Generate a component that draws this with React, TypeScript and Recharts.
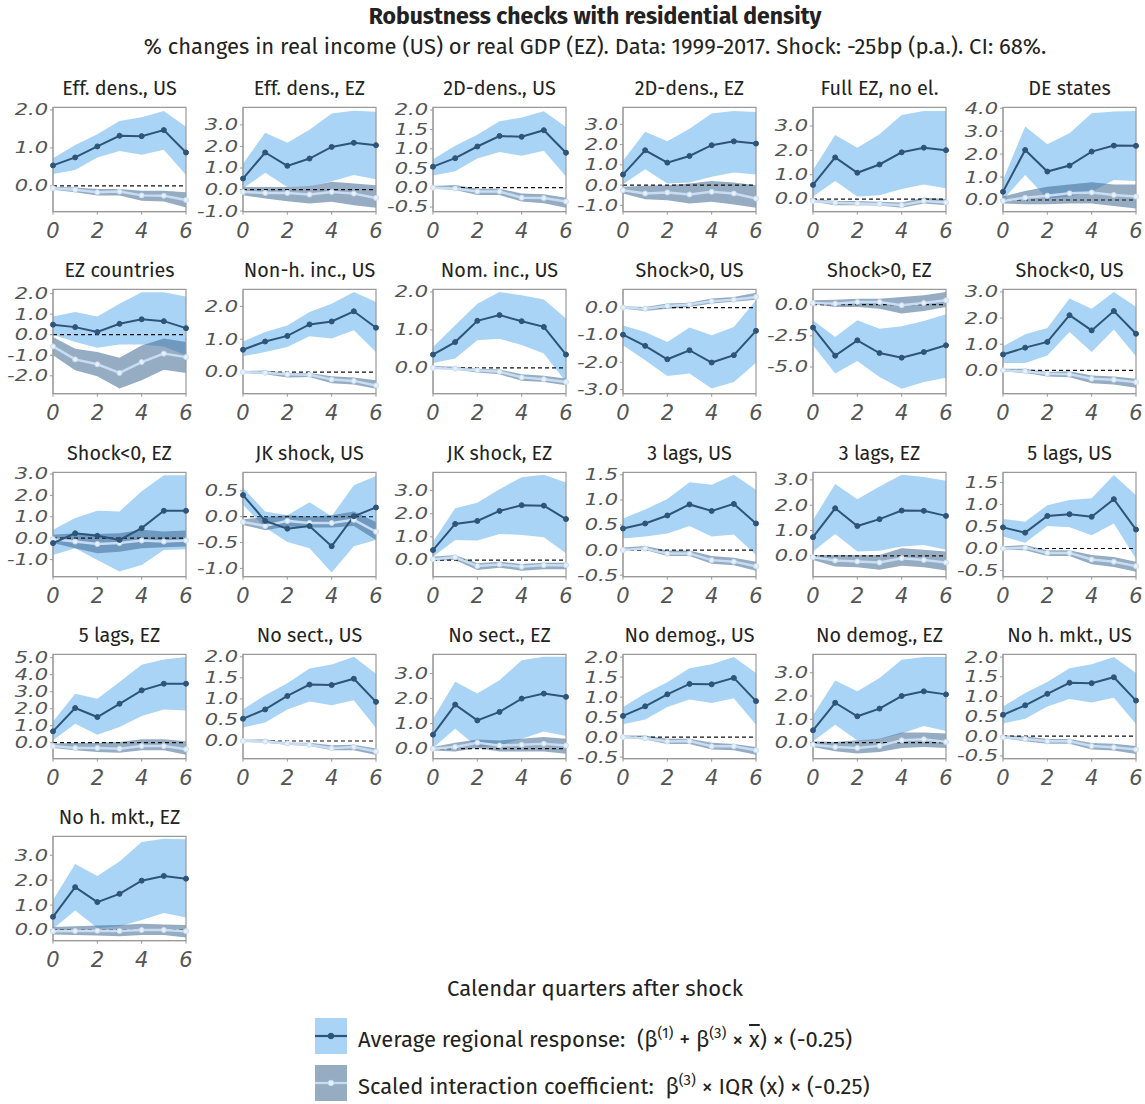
import React from "react";
import { ComposedChart, Area, Line, XAxis, YAxis, ReferenceLine, ReferenceArea } from "recharts";

// Horizont 0..6 Quartale, Beschriftung nur gerade Quartale.
const quarters = [0, 1, 2, 3, 4, 5, 6];
const xTicks = [0, 2, 4, 6];

const panelTitles = [
  "Eff. dens., US", "Eff. dens., EZ", "2D-dens., US", "2D-dens., EZ", "Full EZ, no el.", "DE states",
  "EZ countries", "Non-h. inc., US", "Nom. inc., US", "Shock>0, US", "Shock>0, EZ", "Shock<0, US",
  "Shock<0, EZ", "JK shock, US", "JK shock, EZ", "3 lags, US", "3 lags, EZ", "5 lags, US",
  "5 lags, EZ", "No sect., US", "No sect., EZ", "No demog., US", "No demog., EZ", "No h. mkt., US",
  "No h. mkt., EZ",
];

const yTicks = [
  [0, 1, 2], [-1, 0, 1, 2, 3], [-0.5, 0, 0.5, 1, 1.5, 2], [-1, 0, 1, 2, 3], [0, 1, 2, 3], [0, 1, 2, 3, 4],
  [-2, -1, 0, 1, 2], [0, 1, 2], [0, 1, 2], [-3, -2, -1, 0], [-5, -2.5, 0], [0, 1, 2, 3],
  [-1, 0, 1, 2, 3], [-1, -0.5, 0, 0.5], [0, 1, 2, 3], [-0.5, 0, 0.5, 1, 1.5], [0, 1, 2, 3], [-0.5, 0, 0.5, 1, 1.5],
  [0, 1, 2, 3, 4, 5], [0, 0.5, 1, 1.5, 2], [0, 1, 2, 3], [-0.5, 0, 0.5, 1, 1.5, 2], [0, 1, 2, 3], [-0.5, 0, 0.5, 1, 1.5, 2],
  [0, 1, 2, 3],
];

const yDomains = [
  [-0.68, 2.07], [-1.03, 3.82], [-0.62, 2.07], [-1.31, 3.84], [-0.52, 3.77], [-0.51, 4.04],
  [-2.87, 2.21], [-0.66, 2.52], [-0.68, 2.07], [-3.15, 0.67], [-7.14, 1.23], [-0.89, 3.1],
  [-1.8, 3.08], [-1.16, 0.86], [-0.72, 3.79], [-0.53, 1.55], [-0.82, 3.3], [-0.64, 1.73],
  [-0.94, 5.2], [-0.42, 2.06], [-0.4, 3.77], [-0.54, 2.07], [-0.69, 3.79], [-0.57, 2.07],
  [-0.43, 3.76],
];

// Durchschnittliche regionale Reaktion (Punktschätzer) je Panel.
const response = [
  [0.54, 0.75, 1.04, 1.32, 1.31, 1.47, 0.88],
  [0.51, 1.72, 1.10, 1.44, 1.98, 2.17, 2.06],
  [0.54, 0.76, 1.06, 1.33, 1.31, 1.48, 0.90],
  [0.52, 1.72, 1.11, 1.44, 1.97, 2.16, 2.05],
  [0.58, 1.71, 1.08, 1.42, 1.92, 2.11, 2.01],
  [0.36, 2.18, 1.24, 1.50, 2.11, 2.37, 2.36],
  [0.49, 0.37, 0.13, 0.53, 0.75, 0.66, 0.32],
  [0.68, 0.93, 1.10, 1.45, 1.54, 1.85, 1.35],
  [0.35, 0.68, 1.24, 1.39, 1.23, 1.08, 0.35],
  [-0.99, -1.40, -1.89, -1.56, -2.01, -1.74, -0.85],
  [-1.84, -4.09, -2.86, -3.88, -4.25, -3.80, -3.26],
  [0.61, 0.87, 1.09, 2.11, 1.53, 2.27, 1.40],
  [-0.23, 0.23, 0.11, -0.08, 0.47, 1.28, 1.28],
  [0.42, -0.08, -0.23, -0.18, -0.57, 0.01, 0.18],
  [0.43, 1.56, 1.69, 2.12, 2.37, 2.35, 1.77],
  [0.43, 0.53, 0.69, 0.91, 0.78, 0.92, 0.53],
  [0.74, 1.88, 1.18, 1.45, 1.79, 1.78, 1.58],
  [0.48, 0.36, 0.74, 0.78, 0.72, 1.12, 0.43],
  [0.67, 2.04, 1.51, 2.29, 3.08, 3.47, 3.47],
  [0.53, 0.75, 1.07, 1.34, 1.33, 1.48, 0.93],
  [0.56, 1.76, 1.13, 1.47, 2.00, 2.20, 2.07],
  [0.53, 0.77, 1.07, 1.33, 1.32, 1.48, 0.90],
  [0.53, 1.71, 1.13, 1.46, 2.00, 2.20, 2.07],
  [0.54, 0.78, 1.07, 1.35, 1.34, 1.49, 0.90],
  [0.53, 1.72, 1.12, 1.45, 1.98, 2.17, 2.06],
];

const responseLo = [
  [0.31, 0.42, 0.75, 0.92, 0.82, 0.95, 0.29],
  [0.05, 0.78, 0.12, 0.15, 0.38, 0.68, 0.48],
  [0.31, 0.42, 0.75, 0.92, 0.82, 0.95, 0.29],
  [0.05, 0.78, 0.08, 0.13, 0.41, 0.62, 0.52],
  [0.10, 0.74, 0.10, 0.16, 0.41, 0.60, 0.44],
  [0.00, 1.09, 0.07, 0.15, 0.36, 0.87, 0.83],
  [0.00, -0.36, -0.63, -0.47, -0.47, -0.57, -1.00],
  [0.48, 0.61, 0.76, 1.09, 1.02, 1.27, 0.61],
  [0.13, 0.25, 0.73, 0.77, 0.60, 0.38, -0.37],
  [-1.38, -1.93, -2.50, -2.41, -2.96, -2.72, -2.02],
  [-3.26, -5.53, -4.52, -5.80, -6.74, -6.20, -5.86],
  [0.28, 0.28, 0.57, 1.47, 0.70, 1.56, 0.54],
  [-0.78, -0.47, -1.02, -1.56, -1.25, -0.55, -0.52],
  [0.23, -0.21, -0.49, -0.61, -1.08, -0.57, -0.45],
  [0.14, 0.87, 0.84, 1.13, 1.08, 0.98, 0.29],
  [0.23, 0.27, 0.33, 0.48, 0.27, 0.31, -0.10],
  [0.17, 0.87, 0.17, 0.20, 0.37, 0.43, 0.24],
  [0.27, 0.13, 0.51, 0.48, 0.30, 0.57, -0.23],
  [0.14, 1.12, 0.47, 0.92, 1.57, 1.96, 1.90],
  [0.32, 0.44, 0.75, 0.94, 0.85, 0.97, 0.31],
  [0.03, 0.80, 0.07, 0.13, 0.40, 0.69, 0.51],
  [0.32, 0.44, 0.75, 0.94, 0.85, 0.97, 0.31],
  [0.06, 0.77, 0.10, 0.14, 0.39, 0.71, 0.50],
  [0.32, 0.44, 0.75, 0.94, 0.85, 0.97, 0.31],
  [0.05, 0.78, 0.08, 0.15, 0.40, 0.68, 0.50],
];

const responseHi = [
  [0.73, 1.08, 1.36, 1.71, 1.81, 1.97, 1.56],
  [1.20, 2.64, 2.17, 2.78, 3.53, 3.66, 3.61],
  [0.73, 1.08, 1.36, 1.71, 1.81, 1.97, 1.56],
  [1.20, 2.64, 2.17, 2.78, 3.53, 3.66, 3.61],
  [1.19, 2.63, 2.11, 2.66, 3.45, 3.62, 3.62],
  [0.87, 3.20, 2.43, 2.91, 3.78, 3.86, 3.88],
  [0.89, 1.11, 0.89, 1.51, 2.07, 2.07, 1.86],
  [0.93, 1.22, 1.42, 1.83, 2.08, 2.44, 2.13],
  [0.55, 1.12, 1.69, 2.00, 1.91, 1.80, 1.30],
  [-0.65, -0.89, -1.26, -0.73, -1.01, -0.71, 0.27],
  [-1.26, -2.59, -1.26, -1.93, -1.74, -1.31, -0.78],
  [0.92, 1.38, 1.62, 2.75, 2.36, 3.00, 2.43],
  [0.39, 0.94, 1.28, 1.25, 2.19, 2.94, 2.94],
  [0.56, 0.10, 0.03, 0.28, 0.01, 0.61, 0.79],
  [0.79, 2.24, 2.48, 3.06, 3.58, 3.68, 3.35],
  [0.63, 0.81, 1.02, 1.35, 1.30, 1.50, 1.20],
  [1.42, 2.84, 2.24, 2.74, 3.20, 3.11, 2.97],
  [0.67, 0.61, 0.98, 1.10, 1.14, 1.67, 1.21],
  [1.25, 2.88, 2.59, 3.57, 4.59, 4.90, 5.04],
  [0.75, 1.09, 1.37, 1.72, 1.82, 2.00, 1.60],
  [1.20, 2.67, 2.20, 2.73, 3.53, 3.67, 3.67],
  [0.75, 1.09, 1.37, 1.72, 1.82, 2.00, 1.60],
  [1.17, 2.67, 2.20, 2.77, 3.56, 3.67, 3.67],
  [0.75, 1.09, 1.37, 1.72, 1.82, 2.00, 1.60],
  [1.20, 2.65, 2.17, 2.75, 3.53, 3.66, 3.64],
];

// Skalierter Interaktionskoeffizient je Panel.
const interaction = [
  [-0.06, -0.10, -0.17, -0.15, -0.25, -0.26, -0.37],
  [-0.11, -0.16, -0.16, -0.23, -0.11, -0.19, -0.39],
  [0.00, -0.02, -0.10, -0.10, -0.26, -0.27, -0.36],
  [-0.25, -0.41, -0.36, -0.46, -0.33, -0.41, -0.66],
  [-0.08, -0.15, -0.18, -0.20, -0.25, -0.08, -0.14],
  [-0.04, 0.10, 0.19, 0.29, 0.33, 0.22, 0.15],
  [-0.57, -1.20, -1.44, -1.86, -1.33, -0.92, -1.09],
  [0.00, -0.02, -0.07, -0.08, -0.23, -0.27, -0.41],
  [0.00, -0.02, -0.06, -0.10, -0.25, -0.30, -0.37],
  [0.00, -0.04, 0.06, 0.11, 0.23, 0.29, 0.39],
  [0.13, 0.08, 0.21, 0.21, -0.05, 0.13, 0.35],
  [0.00, -0.03, -0.13, -0.15, -0.32, -0.36, -0.45],
  [-0.05, -0.16, -0.27, -0.23, -0.11, -0.16, -0.11],
  [-0.10, -0.18, -0.08, -0.12, -0.12, -0.06, -0.29],
  [0.03, 0.12, -0.26, -0.19, -0.29, -0.22, -0.22],
  [0.00, 0.03, -0.07, -0.07, -0.20, -0.23, -0.32],
  [-0.05, -0.18, -0.22, -0.26, -0.09, -0.16, -0.26],
  [0.00, 0.02, -0.10, -0.10, -0.25, -0.30, -0.40],
  [-0.20, -0.31, -0.31, -0.35, -0.20, -0.20, -0.39],
  [0.00, -0.01, -0.06, -0.09, -0.17, -0.14, -0.25],
  [0.00, 0.07, 0.24, 0.13, 0.16, 0.20, 0.13],
  [0.00, -0.03, -0.11, -0.10, -0.23, -0.23, -0.33],
  [-0.09, -0.19, -0.23, -0.14, 0.10, 0.14, 0.03],
  [-0.03, -0.07, -0.13, -0.13, -0.25, -0.28, -0.34],
  [-0.05, -0.04, -0.03, -0.04, 0.00, 0.00, -0.05],
];

const interactionLo = [
  [-0.10, -0.17, -0.25, -0.25, -0.39, -0.41, -0.57],
  [-0.26, -0.42, -0.54, -0.65, -0.57, -0.73, -0.85],
  [-0.02, -0.06, -0.19, -0.19, -0.36, -0.40, -0.52],
  [-0.41, -0.69, -0.74, -0.90, -0.82, -0.95, -1.12],
  [-0.11, -0.25, -0.25, -0.27, -0.36, -0.18, -0.25],
  [-0.15, -0.19, -0.19, -0.15, -0.15, -0.26, -0.37],
  [-1.00, -1.73, -2.02, -2.62, -2.22, -1.70, -1.86],
  [-0.02, -0.07, -0.17, -0.15, -0.34, -0.38, -0.51],
  [-0.02, -0.04, -0.12, -0.17, -0.34, -0.37, -0.46],
  [-0.04, -0.12, -0.04, 0.02, 0.15, 0.21, 0.29],
  [0.03, -0.19, -0.19, -0.32, -0.72, -0.51, -0.19],
  [-0.04, -0.10, -0.23, -0.26, -0.49, -0.54, -0.66],
  [-0.23, -0.47, -0.70, -0.63, -0.47, -0.42, -0.39],
  [-0.16, -0.26, -0.19, -0.21, -0.21, -0.18, -0.45],
  [-0.03, 0.00, -0.43, -0.33, -0.46, -0.40, -0.40],
  [-0.01, 0.00, -0.12, -0.12, -0.27, -0.30, -0.41],
  [-0.16, -0.42, -0.45, -0.55, -0.39, -0.45, -0.58],
  [-0.02, -0.04, -0.17, -0.17, -0.36, -0.42, -0.53],
  [-0.31, -0.45, -0.55, -0.59, -0.45, -0.45, -0.71],
  [-0.02, -0.04, -0.09, -0.12, -0.22, -0.22, -0.33],
  [-0.07, -0.11, 0.03, -0.11, -0.11, -0.11, -0.20],
  [-0.02, -0.06, -0.17, -0.17, -0.31, -0.33, -0.44],
  [-0.19, -0.37, -0.47, -0.40, -0.23, -0.19, -0.23],
  [-0.05, -0.13, -0.19, -0.19, -0.34, -0.36, -0.45],
  [-0.18, -0.20, -0.22, -0.25, -0.20, -0.20, -0.30],
];

const interactionHi = [
  [-0.02, -0.04, -0.08, -0.08, -0.13, -0.13, -0.17],
  [0.12, 0.12, 0.12, 0.16, 0.36, 0.28, 0.20],
  [0.04, 0.07, -0.03, -0.03, -0.15, -0.17, -0.26],
  [-0.08, -0.03, 0.00, 0.08, 0.20, 0.13, 0.00],
  [0.00, -0.08, -0.08, -0.11, -0.14, 0.05, 0.00],
  [0.15, 0.39, 0.58, 0.68, 0.77, 0.68, 0.68],
  [-0.11, -0.68, -0.84, -1.12, -0.52, -0.19, -0.36],
  [0.03, 0.05, -0.03, -0.03, -0.13, -0.17, -0.25],
  [0.05, 0.03, -0.02, -0.04, -0.17, -0.21, -0.28],
  [0.05, 0.02, 0.15, 0.18, 0.33, 0.39, 0.54],
  [0.35, 0.40, 0.48, 0.48, 0.61, 0.75, 1.02],
  [0.06, 0.06, -0.06, -0.03, -0.19, -0.23, -0.32],
  [0.16, 0.23, 0.20, 0.23, 0.39, 0.31, 0.36],
  [-0.05, -0.01, 0.03, 0.00, 0.03, 0.10, -0.10],
  [0.14, 0.22, -0.14, -0.07, -0.17, -0.12, -0.12],
  [0.05, 0.08, -0.01, -0.01, -0.12, -0.15, -0.23],
  [0.04, 0.04, 0.04, 0.04, 0.30, 0.24, 0.17],
  [0.05, 0.08, -0.04, -0.04, -0.15, -0.19, -0.30],
  [-0.06, 0.00, 0.00, 0.04, 0.20, 0.20, 0.08],
  [0.03, 0.04, -0.04, -0.04, -0.10, -0.09, -0.18],
  [0.07, 0.24, 0.37, 0.33, 0.40, 0.47, 0.40],
  [0.04, 0.04, -0.04, -0.04, -0.14, -0.17, -0.25],
  [0.06, 0.03, 0.10, 0.17, 0.43, 0.43, 0.39],
  [0.02, 0.00, -0.07, -0.07, -0.17, -0.19, -0.25],
  [0.12, 0.15, 0.18, 0.20, 0.25, 0.22, 0.20],
];

// Farben
const LIGHT = "#aad4f5";
const DARK = "#2e5479";
const GREY_BAND = "#3e6890";
const GREY_OPACITY = 0.55;
const INT_LINE = "#c8dcf2";
const INT_DOT = "#e8f1fb";
const AXIS = "#9a9a9a";
const TICK_TXT = "#555";
const FONT = "'Fira Sans', 'Open Sans', sans-serif";
const TICK_FONT = "'DejaVu Sans', sans-serif";

// y-Ticks: gleiche Glyphenbreite wie x-Ticks, aber vertikal gestaucht.
function YTick(props: any) {
  const { x, y, payload } = props;
  return (
    <g transform={`translate(${x},${y})`}>
      <text
        transform="scale(1,0.72)"
        textAnchor="end"
        dy="0.36em"
        fill={TICK_TXT}
        fontSize={21}
        fontStyle="italic"
        fontFamily={TICK_FONT}
      >
        {Number(payload.value).toFixed(1)}
      </text>
    </g>
  );
}

function Panel({ k }: { k: number }) {
  const row = Math.floor(k / 6);
  const col = k % 6;
  const data = quarters.map((q, j) => ({
    q,
    resp: response[k][j],
    band: [responseLo[k][j], responseHi[k][j]],
    inter: interaction[k][j],
    iband: [interactionLo[k][j], interactionHi[k][j]],
  }));
  const [lo, hi] = yDomains[k];
  return (
    <div style={{ position: "absolute", left: 190 * col, top: 75 + 182.25 * row, width: 204, height: 170 }}>
      <div
        style={{
          position: "absolute",
          left: 13,
          width: 213,
          top: 0,
          textAlign: "center",
          fontSize: 19.8,
          lineHeight: "26px",
          whiteSpace: "nowrap",
          color: "#222",
        }}
      >
        {panelTitles[k]}
      </div>
      <div style={{ position: "absolute", left: 0, top: 25 }}>
        <ComposedChart width={204} height={145} data={data} margin={{ top: 7.3, right: 18, bottom: 0, left: 0 }}>
          <XAxis
            dataKey="q"
            type="number"
            domain={[0, 6]}
            ticks={xTicks}
            interval={0}
            height={33.3}
            tickSize={3}
            tickMargin={8}
            stroke={AXIS}
            tick={{ fill: TICK_TXT, fontSize: 21, fontStyle: "italic", fontFamily: TICK_FONT }}
          />
          <YAxis
            type="number"
            domain={[lo, hi]}
            ticks={yTicks[k]}
            interval={0}
            allowDataOverflow
            width={53}
            tickSize={3}
            tickMargin={2}
            stroke={AXIS}
            tick={YTick}
          />
          <Area type="linear" dataKey="band" stroke="none" fill={LIGHT} fillOpacity={1} isAnimationActive={false} activeDot={false} />
          <Area
            type="linear"
            dataKey="iband"
            stroke="none"
            fill={GREY_BAND}
            fillOpacity={GREY_OPACITY}
            isAnimationActive={false}
            activeDot={false}
          />
          <ReferenceLine y={0} stroke="#111" strokeDasharray="4 3" strokeWidth={1.2} />
          <Line
            type="linear"
            dataKey="inter"
            stroke={INT_LINE}
            strokeWidth={2.5}
            dot={{ r: 2.5, fill: INT_DOT, stroke: INT_LINE, strokeWidth: 1 }}
            activeDot={false}
            isAnimationActive={false}
          />
          <Line
            type="linear"
            dataKey="resp"
            stroke={DARK}
            strokeWidth={2}
            dot={{ r: 2.5, fill: DARK, stroke: DARK, strokeWidth: 1 }}
            activeDot={false}
            isAnimationActive={false}
          />
          <ReferenceArea x1={0} x2={6} y1={lo} y2={hi} fill="none" stroke={AXIS} strokeWidth={1.2} ifOverflow="visible" />
        </ComposedChart>
      </div>
    </div>
  );
}

function Swatch({ band, bandOpacity, line, dotFill }: { band: string; bandOpacity: number; line: string; dotFill: string }) {
  return (
    <svg width={32} height={36} style={{ display: "block" }}>
      <rect x={0} y={0} width={32} height={36} fill={band} fillOpacity={bandOpacity} />
      <line x1={0} y1={18} x2={32} y2={18} stroke={line} strokeWidth={2.2} />
      <circle cx={16} cy={18} r={2.8} fill={dotFill} stroke={line} strokeWidth={1} />
    </svg>
  );
}

export default function App() {
  const sup = { fontSize: "0.68em", verticalAlign: "0.6em", lineHeight: 0 } as React.CSSProperties;
  return (
    <div style={{ position: "absolute", left: 0, top: 0, width: 1145, height: 1104, background: "#fff", fontFamily: FONT, color: "#222" }}>
      <div style={{ position: "absolute", left: 45, width: 1100, top: 2, textAlign: "center", fontSize: 23, fontWeight: 700, lineHeight: "28px" }}>
        Robustness checks with residential density
      </div>
      <div style={{ position: "absolute", left: 45, width: 1100, top: 33, textAlign: "center", fontSize: 22, lineHeight: "28px" }}>
        % changes in real income (US) or real GDP (EZ). Data: 1999-2017. Shock: -25bp (p.a.). CI: 68%.
      </div>
      {panelTitles.map((_, k) => (
        <Panel key={k} k={k} />
      ))}
      <div style={{ position: "absolute", left: 45, width: 1100, top: 975, textAlign: "center", fontSize: 22, lineHeight: "28px" }}>
        Calendar quarters after shock
      </div>
      <div style={{ position: "absolute", left: 315, top: 1018 }}>
        <Swatch band={LIGHT} bandOpacity={1} line={DARK} dotFill={DARK} />
      </div>
      <div style={{ position: "absolute", left: 358, top: 1026, fontSize: 22, lineHeight: "28px", whiteSpace: "nowrap" }}>
        Average regional response:&nbsp;&nbsp;(β<sup style={sup}>(1)</sup> + β<sup style={sup}>(3)</sup> ×{" "}
        <span style={{ textDecoration: "overline" }}>x</span>) × (-0.25)
      </div>
      <div style={{ position: "absolute", left: 315, top: 1065 }}>
        <Swatch band={GREY_BAND} bandOpacity={GREY_OPACITY} line={INT_LINE} dotFill={INT_DOT} />
      </div>
      <div style={{ position: "absolute", left: 358, top: 1073, fontSize: 22, lineHeight: "28px", whiteSpace: "nowrap" }}>
        Scaled interaction coefficient:&nbsp;&nbsp;β<sup style={sup}>(3)</sup> × IQR (x) × (-0.25)
      </div>
    </div>
  );
}
